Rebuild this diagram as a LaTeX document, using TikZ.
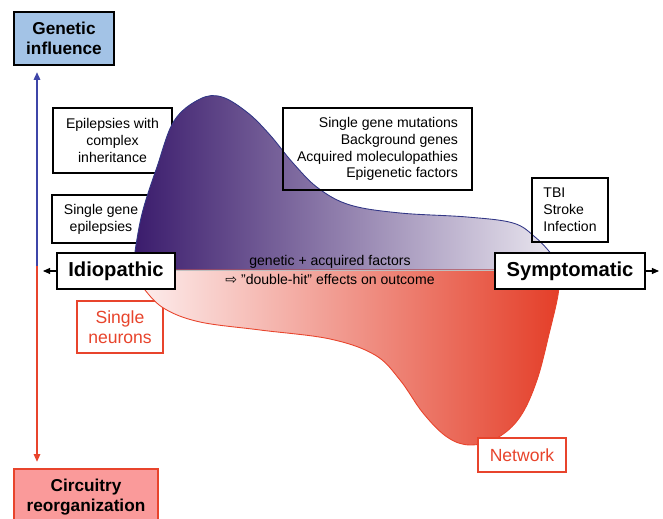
\documentclass[tikz,border=0pt]{standalone}
\usepackage{fontspec}
\setmainfont{Liberation Sans}
\newfontfamily\symfont{DejaVu Sans}
\usetikzlibrary{arrows.meta,positioning}
\definecolor{genblue}{HTML}{A3C3E6}
\definecolor{circfill}{HTML}{FA9A9A}
\definecolor{axisblue}{HTML}{3E45A8}
\definecolor{axisred}{HTML}{E8442C}
\definecolor{deeppurple}{HTML}{3A1B6C}
\definecolor{midpurple}{HTML}{A49CB8}
\definecolor{palepurple}{HTML}{ECE9F1}
\definecolor{palered}{HTML}{FDF0F0}
\definecolor{deepred}{HTML}{E43E28}

\begin{document}
\begin{tikzpicture}[x=0.02cm, y=-0.02cm,
  box/.style={draw, line width=0.7pt, fill=white, inner sep=0pt, align=center, font=\fontsize{8}{9.6}\selectfont},
  redbox/.style={draw=axisred, line width=0.7pt, fill=white, inner sep=0pt, text=axisred, align=center, font=\fontsize{10}{11.4}\selectfont},
  endbox/.style={draw, line width=0.8pt, fill=white, inner sep=0pt, font=\fontsize{11.5}{13}\selectfont\bfseries},
  headbox/.style={draw, line width=0.8pt, inner sep=0pt, align=center, font=\fontsize{9.8}{11.6}\selectfont\bfseries},
  axis/.style={line width=1.1pt, -{Triangle[length=4.5pt,width=3.6pt]}},
  tip/.style={line width=0.6pt, -{Triangle[length=4pt,width=3.4pt]}},
  lab/.style={font=\fontsize{8}{9.6}\selectfont}]
  \useasboundingbox (0,0) rectangle (663,519);
  % axis with the two headings
  \node[headbox, fill=genblue, minimum width=2cm, minimum height=1.06cm] (genetic) at (64,38.5) {Genetic\\influence};
  \node[headbox, draw=axisred, fill=circfill, minimum width=2.88cm, minimum height=1.12cm] (circuit) at (86,497) {Circuitry\\reorganization};
  \coordinate (axismid) at (37,266);
  \coordinate (gentip) at (37,72);
  \coordinate (circtip) at (37,462);
  \draw[axis, axisblue] (axismid) -- (gentip);
  \draw[axis, axisred] (axismid) -- (circtip);
  % boxes behind the curves
  \node[box, minimum width=2.38cm, minimum height=1.3cm] (complex) at (112.5,140.5) {Epilepsies with\\complex\\inheritance};
  \node[box, minimum width=1.96cm, minimum height=0.96cm] (singlegene) at (101,219) {Single gene\\epilepsies};
  \node[redbox, minimum width=1.72cm, minimum height=1.04cm] (neurons) at (120,327) {Single\\neurons};
  % genetic curve
  \draw[axisblue!80!black, line width=0.5pt, left color=deeppurple, middle color=midpurple, right color=palepurple]
    plot[smooth, tension=0.6] coordinates {(133,270) (136,245) (143,210) (157,167) (174,121) (200,99) (222,97) (248,113) (270,135) (293,163) (318,188) (350,205) (400,213) (467,217) (513,223) (535,237) (552,255) (560,270)} -- cycle;
  % acquired curve
  \draw[axisred, line width=0.5pt, left color=palered, right color=deepred]
    plot[smooth, tension=0.6] coordinates {(133,270) (145,290) (165,309) (200,322) (260,330) (330,339) (375,355) (400,380) (423,413) (447,437) (470,445) (497,438) (520,417) (537,380) (550,330) (558,295) (560,270)} -- cycle;
  \draw[black!25, line width=0.5pt] (133,270) -- (560,270);
  % boxes on top
  \node[box, fill=none, align=right, minimum width=3.78cm, minimum height=1.64cm] (mutations) at (377.5,149) {Single gene mutations\\Background genes\\Acquired moleculopathies\\Epigenetic factors};
  \node[box, fill=none, align=left, minimum width=1.52cm, minimum height=1.28cm] (tbi) at (570,210) {TBI\\Stroke\\Infection};
  \node[lab] (factors) at (330,262) {genetic + acquired factors};
  \node[lab] (doublehit) at (330,279) {{\symfont\char"21E8} "double-hit" effects on outcome};
  \node[redbox, minimum width=1.76cm, minimum height=0.68cm] (network) at (522,455) {Network};
  % the two ends
  \node[endbox, minimum width=2.36cm, minimum height=0.72cm] (idio) at (116,271) {Idiopathic};
  \node[endbox, minimum width=3cm, minimum height=0.72cm] (sympt) at (570,271) {Symptomatic};
  \coordinate (idioend) at (43,271);
  \coordinate (symptend) at (659,271);
  \draw[tip] (idio) -- (idioend);
  \draw[tip] (sympt) -- (symptend);
\end{tikzpicture}
\end{document}
